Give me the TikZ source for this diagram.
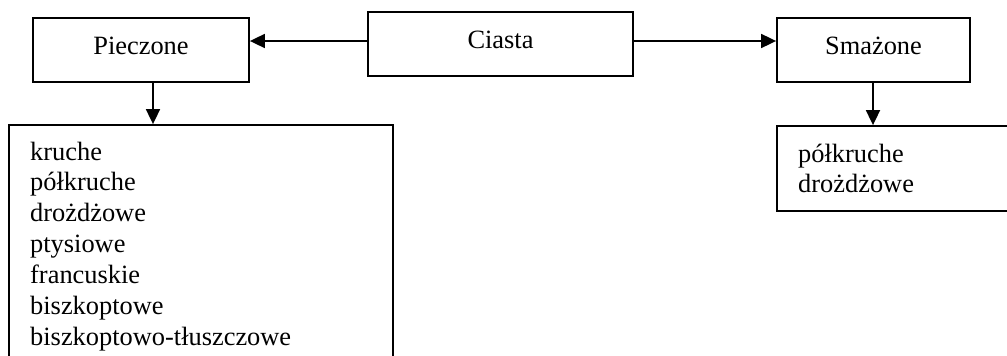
\documentclass[tikz,border=0pt]{standalone}
\usepackage{fontspec}
\setmainfont{Liberation Serif}
\usetikzlibrary{arrows.meta}
\tikzset{
  box/.style={draw, line width=1.8pt, inner sep=0pt, minimum width=#1},
  lbl/.style={anchor=base, inner sep=0pt},
  lst/.style={anchor=north west, inner sep=0pt, align=left},
  arr/.style={line width=1.8pt, -{Triangle[length=15pt,width=14pt]}}
}
\begin{document}
\begin{tikzpicture}[x=1pt, y=-1pt, font=\fontsize{26.4pt}{30.9pt}\selectfont]
\useasboundingbox (0,0) rectangle (1007,356);
\clip (0,0) rectangle (1007,356);

% top row of boxes
\node[box=265pt, minimum height=64pt] (cia) at (500.5,44) {};
\node[box=216pt, minimum height=64pt] (pie) at (141,50) {};
\node[box=193pt, minimum height=64pt] (sma) at (873.5,50) {};
\node[lbl] (ciaT) at (500.5,48) {Ciasta};
\node[lbl] (pieT) at (141,54) {Pieczone};
\node[lbl] (smaT) at (873.5,54) {Smażone};

% lower boxes (they run past the page edge)
\node[box=384pt, minimum height=260pt] (pl) at (201,255) {};
\node[box=250pt, minimum height=85pt] (sl) at (902,168.5) {};

\node[lst] (plT) at (30,141.5) {kruche\\półkruche\\drożdżowe\\ptysiowe\\francuskie\\biszkoptowe\\biszkoptowo-tłuszczowe};
\node[lst] (slT) at (798,143.5) {półkruche\\drożdżowe};

% connectors
\coordinate (lvl) at (0,41);
\coordinate (dx) at (153,0);
\coordinate (dx2) at (873,0);
\draw[arr] (cia.west |- lvl) -- (pie.east |- lvl);
\draw[arr] (cia.east |- lvl) -- (sma.west |- lvl);
\draw[arr] (pie.south -| dx) -- (pl.north -| dx);
\draw[arr] (sma.south -| dx2) -- (sl.north -| dx2);
\end{tikzpicture}
\end{document}
